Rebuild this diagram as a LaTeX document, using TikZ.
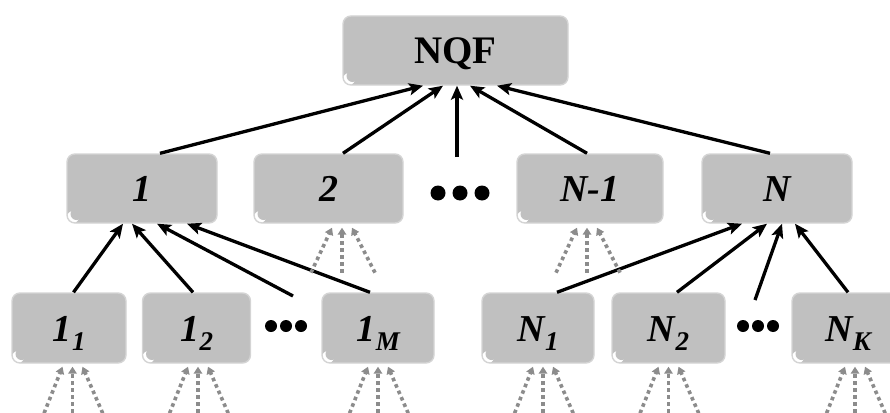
\documentclass[tikz,border=0pt]{standalone}
\usepackage{fontspec}
\setmainfont{Liberation Serif}
\usetikzlibrary{arrows.meta,calc}
\definecolor{boxfill}{RGB}{192,192,192}
\definecolor{boxedge}{RGB}{212,212,212}
\definecolor{dotgray}{RGB}{140,140,140}
\newcommand\subtxt[1]{\raisebox{-9pt}{\fontsize{27}{27}\selectfont #1}}
\newcommand\feedfan[4]{%
  \draw[feed] ([xshift={#2pt-31pt},yshift=-#3pt]#1.south) -- ([xshift={#2pt-10pt},yshift=-#4pt]#1.south);
  \draw[feed] ([xshift={#2pt},yshift=-#3pt]#1.south) -- ([xshift={#2pt},yshift=-#4pt]#1.south);
  \draw[feed] ([xshift={#2pt+33pt},yshift=-#3pt]#1.south) -- ([xshift={#2pt+10pt},yshift=-#4pt]#1.south);}
\begin{document}
\begin{tikzpicture}[x=1pt,y=-1pt,
  nbox/.style={draw=boxedge, line width=1.4pt, fill=boxfill, rounded corners=8pt,
    minimum height=69pt, inner sep=0pt, text height=26pt, text depth=0pt,
    font=\fontsize{38}{38}\selectfont\bfseries\itshape,
    path picture={
      \fill[white] ([xshift=6pt,yshift=6pt]path picture bounding box.south west) circle[radius=6pt];
      \fill[boxfill] ([xshift=9.5pt,yshift=9pt]path picture bounding box.south west) circle[radius=6pt];}},
  link/.style={line width=3.3pt, -{Stealth[length=14pt,width=12pt,inset=3pt]}},
  feed/.style={dotgray, line width=3.6pt, dash pattern=on 3.6pt off 3.4pt, -{Triangle[length=7pt,width=8.5pt]}},
  blob/.style={circle, fill=black, inner sep=0pt, minimum size=#1},
]
\useasboundingbox (0,0) rectangle (890,412);

% top
\node[nbox, minimum width=225pt, font=\fontsize{39}{39}\selectfont\bfseries] (nqf) at (455.5,50.5) {NQF};

% middle row
\node[nbox, minimum width=150pt] (m1) at (142,188.5) {1};
\node[nbox, minimum width=149pt] (m2) at (328.5,188.5) {2};
\node[nbox, minimum width=146pt] (mn1) at (590,188.5) {N-1};
\node[nbox, minimum width=150pt] (mn) at (777,188.5) {N};

\node[blob=15pt] (d1) at (438,193) {};
\node[blob=15pt] (d2) at (460,193) {};
\node[blob=15pt] (d3) at (482,193) {};
\coordinate (dtop) at (457,157);

% bottom row
\node[nbox, minimum width=114pt, minimum height=70pt] (b11) at (69,328) {1\kern0.5pt\subtxt{1}};
\node[nbox, minimum width=108pt, minimum height=70pt] (b12) at (196.5,328) {1\kern0.5pt\subtxt{2}};
\node[nbox, minimum width=112pt, minimum height=70pt] (b1m) at (378,328) {1\kern0.5pt\subtxt{M}};
\node[nbox, minimum width=112pt, minimum height=70pt] (bn1) at (538,328) {N\kern0.5pt\subtxt{1}};
\node[nbox, minimum width=113pt, minimum height=70pt] (bn2) at (668.5,328) {N\kern0.5pt\subtxt{2}};
\node[nbox, minimum width=112pt, minimum height=70pt] (bnk) at (848,328) {N\kern0.5pt\subtxt{K}};

\node[blob=12pt] (e1) at (271,326) {};
\node[blob=12pt] (e2) at (286,326) {};
\node[blob=12pt] (e3) at (301,326) {};
\node[blob=12pt] (f1) at (743,326) {};
\node[blob=12pt] (f2) at (758,326) {};
\node[blob=12pt] (f3) at (773,326) {};
\coordinate (esrc) at (293,296);
\coordinate (fsrc) at (755,300);

% links to NQF
\draw[link] ([xshift=18pt]m1.north) -- ([xshift=-32.5pt]nqf.south);
\draw[link] ([xshift=14.5pt]m2.north) -- ([xshift=-12.5pt]nqf.south);
\draw[link] (dtop) -- (dtop |- nqf.south);
\draw[link] ([xshift=-3pt]mn1.north) -- ([xshift=14.5pt]nqf.south);
\draw[link] ([xshift=-7pt]mn.north) -- ([xshift=41.5pt]nqf.south);

% links to 1
\draw[link] ([xshift=4.5pt]b11.north) -- ([xshift=-19pt]m1.south);
\draw[link] ([xshift=-3.5pt]b12.north) -- ([xshift=-10pt]m1.south);
\draw[link] (esrc) -- ([xshift=15pt]m1.south);
\draw[link] ([xshift=-8pt]b1m.north) -- ([xshift=45pt]m1.south);

% links to N
\draw[link] ([xshift=19pt]bn1.north) -- ([xshift=-35pt]mn.south);
\draw[link] ([xshift=8.5pt]bn2.north) -- ([xshift=-10pt]mn.south);
\draw[link] (fsrc) -- ([xshift=5pt]mn.south);
\draw[link] (bnk.north) -- ([xshift=18pt]mn.south);

% dotted feeds
\feedfan{m2}{13.5}{49}{4}
\feedfan{mn1}{-3}{49}{4}
\feedfan{b11}{3.5}{56}{3}
\feedfan{b12}{1.5}{56}{3}
\feedfan{b1m}{0}{56}{3}
\feedfan{bn1}{5}{56}{3}
\feedfan{bn2}{0}{56}{3}
\feedfan{bnk}{7}{56}{3}
\end{tikzpicture}
\end{document}
